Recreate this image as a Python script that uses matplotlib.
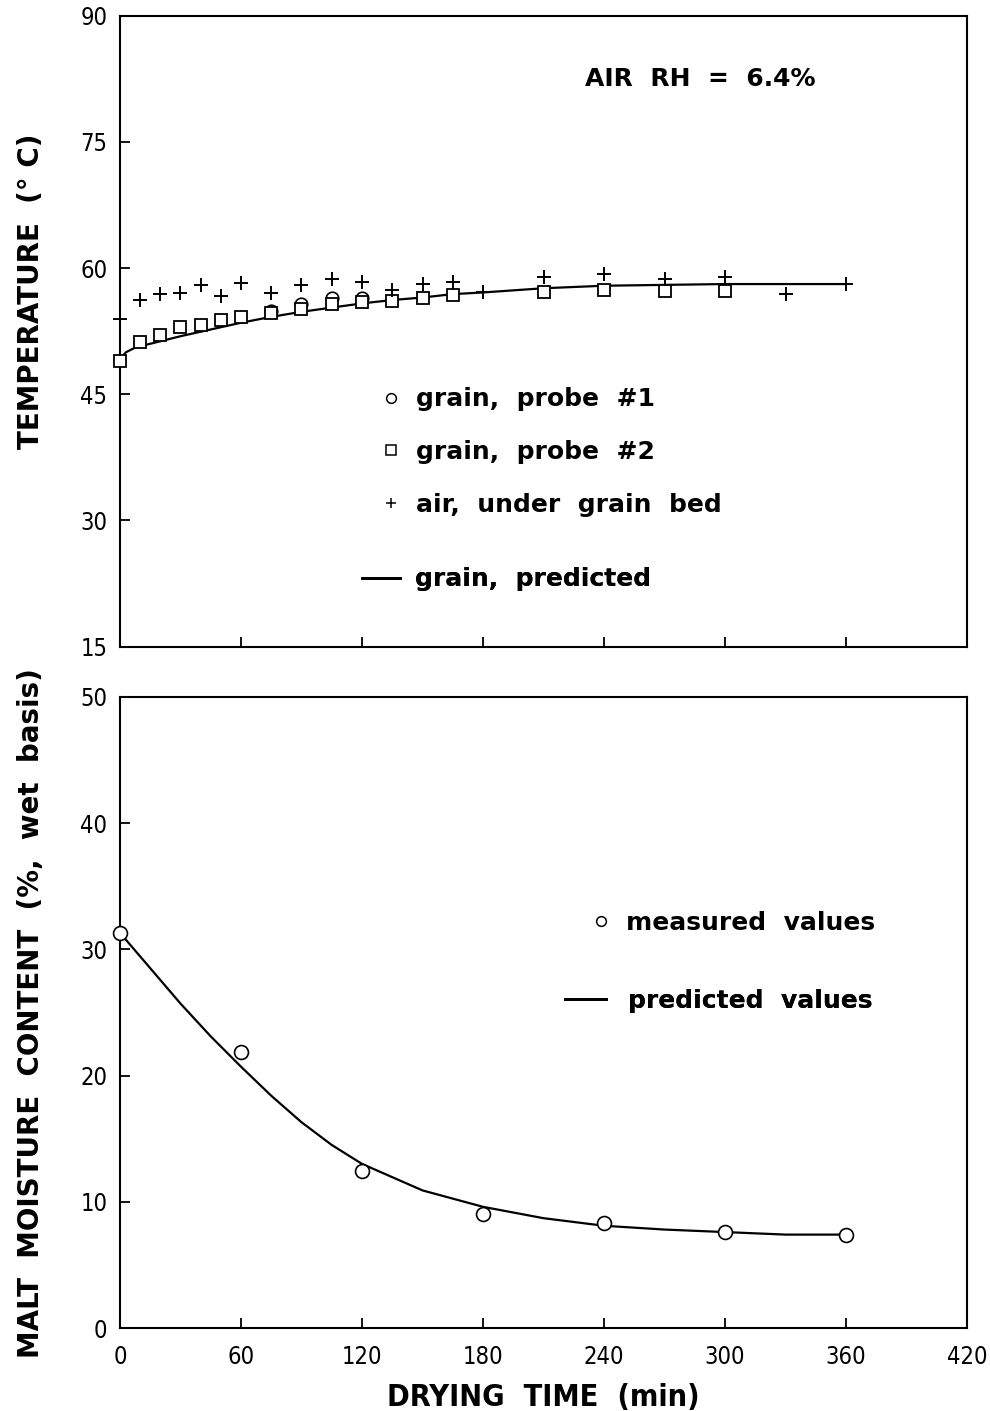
import matplotlib
matplotlib.use('Agg')
import matplotlib.pyplot as plt
from matplotlib.lines import Line2D

# ---- data ----
t_grain = [0, 10, 20, 30, 40, 50, 60, 75, 90, 105, 120, 135, 150, 165, 210, 240, 270, 300]
temp_probe2 = [49.0, 51.2, 52.0, 53.0, 53.2, 53.8, 54.2, 54.6, 55.1, 55.7, 56.0, 56.1, 56.5, 56.8,
               57.1, 57.4, 57.3, 57.3]
t_probe1 = [75, 90, 105, 120]
temp_probe1 = [54.9, 55.7, 56.4, 56.5]
t_air = [0, 10, 20, 30, 40, 50, 60, 75, 90, 105, 120, 135, 150, 165, 180, 210, 240, 270, 300, 330, 360]
temp_air = [54.0, 56.2, 56.9, 57.0, 58.0, 56.7, 58.2, 57.0, 58.0, 58.7, 58.3, 57.4, 58.1, 58.4, 57.1,
            58.9, 59.3, 58.7, 58.9, 56.9, 58.1]
t_pred = [0, 3, 8, 15, 30, 45, 60, 75, 90, 105, 120, 135, 150, 165, 180, 210, 240, 270, 300, 330, 360]
temp_pred = [49.2, 50.0, 50.6, 51.0, 51.9, 52.7, 53.5, 54.2, 54.8, 55.3, 55.8, 56.2, 56.5, 56.9, 57.1,
             57.6, 57.9, 58.0, 58.1, 58.1, 58.1]

t_mc = [0, 60, 120, 180, 240, 300, 360]
mc_meas = [31.3, 21.9, 12.4, 9.0, 8.3, 7.6, 7.4]
t_mc_pred = [0, 15, 30, 45, 60, 75, 90, 105, 120, 150, 180, 210, 240, 270, 300, 330, 360]
mc_pred = [31.3, 28.5, 25.7, 23.1, 20.7, 18.4, 16.3, 14.5, 13.0, 10.9, 9.6, 8.7, 8.1, 7.8, 7.6, 7.4, 7.4]

x_ticks = [0, 60, 120, 180, 240, 300, 360, 420]
temp_ticks = [15, 30, 45, 60, 75, 90]
mc_ticks = [0, 10, 20, 30, 40, 50]

bold_font = 'DejaVu Sans'
tick_kw = dict(family='DejaVu Sans', stretch='condensed', weight='light', size=17)

fig = plt.figure(figsize=(9.9, 14.11), dpi=100)
ax1 = fig.add_axes([0.1212, 0.5417, 0.8556, 0.4472])
ax2 = fig.add_axes([0.1212, 0.0588, 0.8556, 0.4474])


def style_ticks(ax):
    for lab in ax.get_xticklabels() + ax.get_yticklabels():
        lab.set(**tick_kw)


for ax in (ax1, ax2):
    for s in ax.spines.values():
        s.set_linewidth(1.5)
    ax.tick_params(direction='in', length=7, width=1.3, top=False, right=False, pad=9)
    ax.tick_params(axis='x', pad=12)
    ax.set_xlim(0, 420)
    ax.set_xticks(x_ticks)

# top panel
ax1.set_ylim(15, 90)
ax1.set_yticks(temp_ticks)
ax1.tick_params(labelbottom=False)
ax1.plot(t_pred, temp_pred, color='black', lw=1.6, zorder=2)
ax1.plot(t_probe1, temp_probe1, ls='none', marker='o', ms=9, mfc='white', mec='black', mew=1.2, zorder=3)
ax1.plot(t_grain, temp_probe2, ls='none', marker='s', ms=9, mfc='white', mec='black', mew=1.3,
         zorder=4, clip_on=False)
ax1.plot(t_air, temp_air, ls='none', marker='+', ms=9.5, mec='black', mew=1.4, zorder=5, clip_on=False)
ax1.set_ylabel('TEMPERATURE  (° C)', fontsize=20, fontweight='bold', family=bold_font)
ax1.yaxis.set_label_coords(-0.088, 0.564)
ax1.text(0.549, 0.899, 'AIR  RH  =  6.4%', transform=ax1.transAxes, fontsize=18,
         fontweight='bold', family=bold_font, va='center', ha='left')
style_ticks(ax1)


def key(ax, handles, labels, x, y, hl, tp, ls):
    leg = ax.legend(handles, labels, loc='upper left', bbox_to_anchor=(x, y),
                    handlelength=hl, handletextpad=tp, labelspacing=ls, frameon=False,
                    borderpad=0, borderaxespad=0,
                    prop=dict(weight='bold', family=bold_font, size=18))
    ax.add_artist(leg)
    return leg


h_o = Line2D([], [], ls='none', marker='o', ms=7, mfc='white', mec='black', mew=1.1)
h_s = Line2D([], [], ls='none', marker='s', ms=6.5, mfc='white', mec='black', mew=1.1)
h_p = Line2D([], [], ls='none', marker='+', ms=7, mec='black', mew=1.1)
h_l = Line2D([], [], color='black', lw=2)

key(ax1, [h_o, h_s, h_p], ['grain,  probe  #1', 'grain,  probe  #2', 'air,  under  grain  bed'],
    0.305, 0.411, 1.0, 0.5, 1.15)
key(ax1, [h_l], ['grain,  predicted'], 0.286, 0.1255, 1.5, 0.6, 0.5)

# bottom panel
ax2.set_ylim(0, 50)
ax2.set_yticks(mc_ticks)
ax2.plot(t_mc_pred, mc_pred, color='black', lw=1.6, zorder=2)
ax2.plot(t_mc, mc_meas, ls='none', marker='o', ms=10, mfc='white', mec='black', mew=1.2, zorder=3,
         clip_on=False)
ax2.set_ylabel('MALT  MOISTURE  CONTENT  (%,  wet  basis)', fontsize=20, fontweight='bold',
               family=bold_font)
ax2.yaxis.set_label_coords(-0.088, 0.499)
ax2.set_xlabel('DRYING  TIME  (min)', fontsize=22, fontweight='bold', family='DejaVu Sans',
               fontstretch='condensed', labelpad=10)
style_ticks(ax2)

key(ax2, [h_o], ['measured  values'], 0.5535, 0.661, 1.0, 0.5, 0.5)
key(ax2, [h_l], ['predicted  values'], 0.525, 0.537, 1.65, 0.9, 0.5)

fig.savefig('out.png', dpi=100)
